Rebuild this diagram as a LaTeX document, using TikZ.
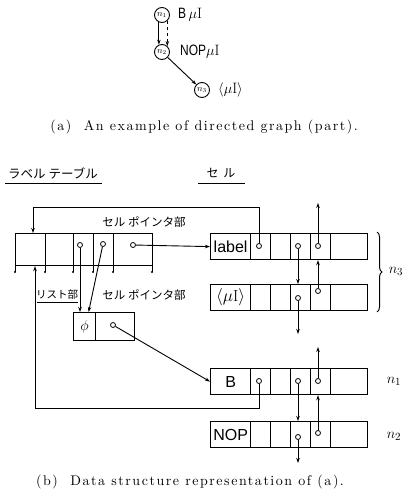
\documentclass[tikz,border=0pt]{standalone}
\usepackage{fontspec}
\usetikzlibrary{arrows.meta,decorations.pathreplacing,calc}
\newfontfamily\jp{Noto Sans CJK JP}
\newfontfamily\cellsans{Liberation Sans}
\newfontfamily\narrowsans[FakeStretch=0.8]{Liberation Sans}
\newfontfamily\capfont{lmroman10-regular.otf}[LetterSpace=11]
\newcommand\mycellrow[3]{%
  \node[cellbox, minimum width=40pt, anchor=north west] (#1a) at (210,#2) {#3};
  \node[cellbox, minimum width=20pt, anchor=north west] (#1b) at (250,#2) {};
  \node[cellbox, minimum width=20pt, anchor=north west] (#1c) at (270,#2) {};
  \node[cellbox, minimum width=20pt, anchor=north west] (#1d) at (290,#2) {};
  \node[cellbox, minimum width=20pt, anchor=north west] (#1e) at (310,#2) {};
  \node[cellbox, minimum width=37pt, anchor=north west] (#1f) at (330,#2) {};
}
\begin{document}
\begin{tikzpicture}[x=1pt,y=-1pt,
  cellbox/.style={draw, line width=1.2pt, inner sep=0pt, minimum height=26pt,
    font=\cellsans\fontsize{16}{16}\selectfont},
  tbox/.style={draw, line width=1.2pt, inner sep=0pt, minimum height=32pt, anchor=north west},
  ptr/.style={circle, draw, fill=white, line width=0.8pt, inner sep=0pt, minimum size=5pt},
  link/.style={line width=0.9pt, -{Stealth[length=5pt,width=3.5pt]}},
  stem/.style={line width=0.9pt},
  dot/.style={circle, fill, inner sep=0pt, minimum size=2.2pt},
  gnode/.style={circle, draw, line width=0.9pt, minimum size=15pt, inner sep=0pt, font=\fontsize{9}{9}\selectfont},
  jplab/.style={font=\jp\fontsize{12}{12}\selectfont, inner sep=1pt},
  uline/.style={line width=0.9pt},
  caption/.style={font=\capfont\fontsize{14}{16}\selectfont},
  nlab/.style={font=\fontsize{15}{15}\selectfont}
]
\useasboundingbox (0,0) rectangle (404,497);

% ---------- (a) graph ----------
\node[gnode] (n1) at (162,15) {$n_1$};
\node[gnode] (n2) at (162,52) {$n_2$};
\node[gnode] (n3) at (202,90) {$n_3$};
\node[anchor=west, inner sep=0pt, font=\fontsize{15}{15}\selectfont] (t1) at (178,15) {{\narrowsans B}$\,\mu\mathrm{I}$};
\node[anchor=west, inner sep=0pt, font=\fontsize{15}{15}\selectfont] (t2) at (180,52) {{\narrowsans NOP}$\mu\mathrm{I}$};
\node[anchor=west, inner sep=0pt, font=\fontsize{15}{15}\selectfont] (t3) at (218,90) {$\langle\mu\mathrm{I}\rangle$};
\draw[link] (n1.-113) -- (n2.113);
\draw[link, dashed] (n1.-48) -- (n2.48);
\draw[link] (n2) -- (n3);
\node[caption] (capa) at (204,127) {(a)\hspace{0.9em}An example of directed graph (part).};

% ---------- headings ----------
\node[jplab, font=\jp\fontsize{12.5}{12.5}\selectfont] (hl) at (53,173) {ラベル テーブル};
\draw[uline] (5,183) -- (102,183);
\node[jplab] (hc) at (221,173) {セ\hspace{5pt}ル};
\draw[uline] (198,183) -- (245,183);

% ---------- label table ----------
\node[tbox, minimum width=30pt] (l1) at (15,233) {};
\node[tbox, minimum width=28pt] (l2) at (45,233) {};
\node[tbox, minimum width=20pt] (l3) at (73,233) {};
\node[tbox, minimum width=20pt] (l4) at (93,233) {};
\node[tbox, minimum width=39pt] (l5) at (113,233) {};
\foreach \xx in {15,45,73,93,113,152}{
  \draw[stem] (\xx,265) -- (\xx,272);
  \node[dot] at (\xx,272) {};
}
\node[ptr] (lp3) at (80,245) {};
\node[ptr] (lp4) at (103,244) {};
\node[ptr] (lp5) at (133,245) {};
\node[jplab, font=\jp\fontsize{11.5}{11.5}\selectfont] (cp1) at (144,222) {セル ポインタ部};

% ---------- list part ----------
\node[jplab, font=\jp\fontsize{10.5}{10.5}\selectfont] (lst) at (57,295) {リスト部};
\draw[uline] (37,302) -- (78,302);
\node[jplab, font=\jp\fontsize{11.5}{11.5}\selectfont] (cp2) at (144,295) {セル ポインタ部};
\node[draw, line width=1.2pt, inner sep=0pt, minimum width=22pt, minimum height=28pt, anchor=north west, font=\fontsize{15}{15}\selectfont] (s1) at (73,312) {$\phi$};
\node[draw, line width=1.2pt, inner sep=0pt, minimum width=39pt, minimum height=28pt, anchor=north west] (s2) at (95,312) {};
\node[ptr] (sp) at (113,325) {};

% ---------- cells ----------
\mycellrow{ra}{233}{label}
\mycellrow{rb}{284}{$\langle\mu\mathrm{I}\rangle$}
\mycellrow{rc}{368}{B}
\mycellrow{rd}{421}{NOP}

\node[ptr] (ra2) at (259,246) {};
\node[ptr] (ra4) at (298,246) {};
\node[ptr] (ra5) at (318,246) {};
\node[ptr] (rb4) at (298,298) {};
\node[ptr] (rb5) at (318,291) {};
\node[ptr] (rc2) at (259,381) {};
\node[ptr] (rc4) at (298,381) {};
\node[ptr] (rc5) at (318,381) {};
\node[ptr] (rd4) at (298,437) {};
\node[ptr] (rd5) at (318,433) {};

\coordinate (ua) at (318,203);
\coordinate (db) at (298,334);
\coordinate (uc) at (318,347);
\coordinate (dd) at (298,463);
\draw[link] (ra4) -- (ra4 |- rba.north);
\draw[link] (ra5) -- (ua);
\draw[link] (rb5) -- (rb5 |- raa.south);
\draw[link] (rb4) -- (db);
\draw[link] (rc5) -- (uc);
\draw[link] (rc4) -- (rc4 |- rda.north);
\draw[link] (rd5) -- (rd5 |- rca.south);
\draw[link] (rd4) -- (dd);

% long loops
\coordinate (lt) at (33,207);
\draw[link] (ra2) |- (lt) -- (lt |- l1.north);
\coordinate (lb) at (35,408);
\draw[link] (rc2) |- (lb) -- (lb |- l1.south);

% table pointers
\draw[link] (lp5) -- (raa.west);
\draw[link] (lp3) -- (lp3 |- s1.north);
\draw[link] (lp4) -- ([xshift=4pt]s1.north);
\draw[link] (sp) -- (rca.west);

% braces / names
\draw[line width=1pt, decorate, decoration={brace, amplitude=5pt}] (377,232) -- (377,312);
\node[nlab] (nm3) at (396,271) {$n_3$};
\node[nlab] (nm1) at (394,381) {$n_1$};
\node[nlab] (nm2) at (394,436) {$n_2$};

\node[caption] (capb) at (190,482) {(b)\hspace{0.9em}Data structure representation of (a).};
\end{tikzpicture}
\end{document}
